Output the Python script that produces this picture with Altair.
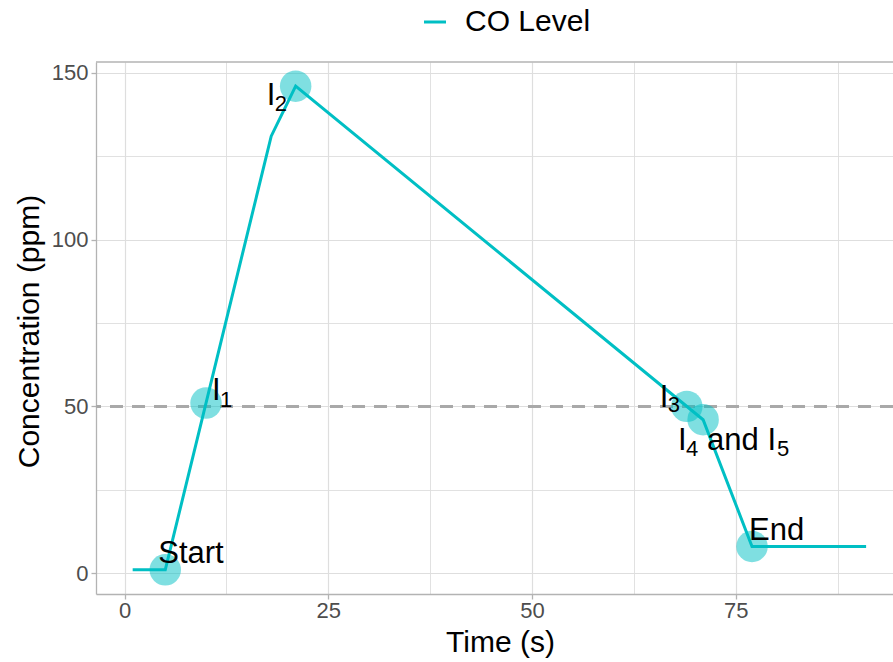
import altair as alt
import pandas as pd

# ---------------- data ----------------
time_s = [1, 5, 18, 21, 71, 77, 91]
co_ppm = [1, 1, 131, 146, 46, 8, 8]

key_names = ["Start", "I1", "I2", "I3", "I4 and I5", "End"]
key_time = [5, 10, 21, 69, 71, 77]
key_co = [1, 51, 146, 50, 46, 8]

threshold = [50]

x_major = [0, 25, 50, 75]
x_minor = [12.5, 37.5, 62.5, 87.5]
y_major = [0, 50, 100, 150]
y_minor = [25, 75, 125]

series_name = ["CO Level"]

# ---------------- style ----------------
FONT = "Liberation Sans"
CYAN = "#00BFC4"
BORDER = "#B3B3B3"
GRID = "#DEDEDE"
W, H = 797, 532

line_df = pd.DataFrame({"time": time_s, "co": co_ppm, "series": series_name[0]})
key_df = pd.DataFrame({"name": key_names, "time": key_time, "co": key_co})
thr_df = pd.DataFrame({"co": threshold})

x_scale = alt.Scale(domain=[-3.5, 94.3], nice=False, zero=False)
y_scale = alt.Scale(domain=[-6.25, 153.25], nice=False, zero=False)


def make_axis(major, minor, title, **kw):
    test = f"indexof({major}, datum.value) >= 0"
    return alt.Axis(
        title=title,
        values=sorted(major + minor),
        labelExpr=f"{test} ? datum.label : ''",
        tickSize=5,
        tickColor=BORDER,
        tickWidth=1.3,
        tickOpacity={"condition": {"test": test, "value": 1}, "value": 0},
        domainColor=BORDER,
        domainWidth=1.3,
        gridColor=GRID,
        gridWidth={"condition": {"test": test, "value": 1.2}, "value": 0.9},
        labelFont=FONT,
        labelFontSize=22,
        labelColor="#4D4D4D",
        titleFont=FONT,
        titleFontSize=30,
        titleColor="black",
        titleFontWeight="normal",
        titleBaseline="alphabetic",
        **kw,
    )


x_axis = make_axis(x_major, x_minor, "Time (s)", titleX=404, titleY=57, labelPadding=1)
y_axis = make_axis(y_major, y_minor, "Concentration (ppm)", titleX=-58, titleY=269, labelPadding=3)

X = alt.X("time:Q", scale=x_scale, axis=x_axis)
Y = alt.Y("co:Q", scale=y_scale, axis=y_axis)

hline = alt.Chart(thr_df).mark_rule(
    color="#A9A9A9", strokeWidth=3, strokeDash=[13, 9]
).encode(y=Y)

line = alt.Chart(line_df).mark_line(strokeWidth=3).encode(
    x=X,
    y=Y,
    color=alt.Color(
        "series:N",
        scale=alt.Scale(domain=series_name, range=[CYAN]),
        legend=alt.Legend(
            title=None,
            orient="none",
            legendX=324,
            legendY=-55,
            direction="horizontal",
            padding=0,
            symbolType="stroke",
            symbolSize=484,
            symbolStrokeWidth=3,
            labelFont=FONT,
            labelFontSize=30,
            labelColor="black",
            labelOffset=15,
        ),
    ),
)

circles = alt.Chart(key_df).mark_circle(size=990, color=CYAN, opacity=0.5).encode(
    x=X, y=Y
)

# label pieces: (point, text, font size, dx, dy)
label_parts = [
    ("Start", "Start", 31, -7, -7),
    ("I1", "I", 31, 6, -3),
    ("I1", "1", 22, 14, 4),
    ("I2", "I", 31, -29, 19),
    ("I2", "2", 22, -21, 25),
    ("I3", "I", 31, -27, 1),
    ("I3", "3", 22, -19, 6),
    ("I4 and I5", "I", 31, -25, 30),
    ("I4 and I5", "4", 22, -17, 36),
    ("I4 and I5", "and I", 31, 4, 30),
    ("I4 and I5", "5", 22, 74, 36),
    ("End", "End", 31, -3, -6),
]

texts = []
for name, txt, size, dx, dy in label_parts:
    texts.append(
        alt.Chart(key_df)
        .transform_filter(alt.datum.name == name)
        .mark_text(
            text=txt,
            font=FONT,
            fontSize=size,
            color="black",
            align="left",
            baseline="alphabetic",
            dx=dx,
            dy=dy,
        )
        .encode(x=X, y=Y)
    )

top_border = alt.Chart(thr_df).mark_rule(color=BORDER, strokeWidth=1.3).encode(
    x=alt.value(0), x2=alt.value(W), y=alt.value(0)
)

chart = (
    alt.layer(hline, line, circles, *texts, top_border)
    .properties(
        width=W,
        height=H,
        padding={"left": 96, "top": 62, "right": 0, "bottom": 66},
        autosize=alt.AutoSizeParams(type="none"),
        background="white",
    )
    .configure_view(stroke=None)
)

chart.save("out.html", embed_options={"renderer": "svg", "actions": False})
